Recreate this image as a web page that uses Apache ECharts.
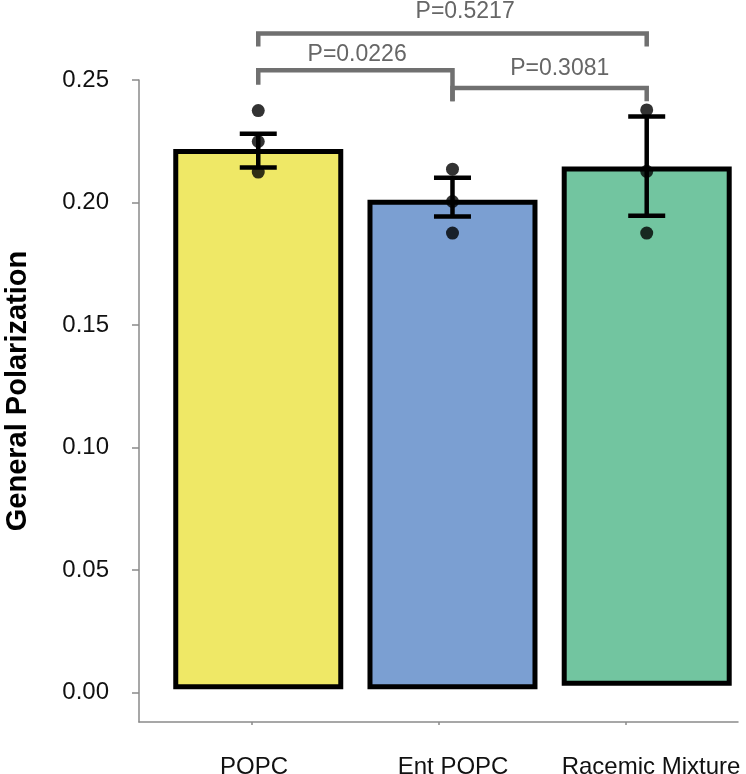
<!DOCTYPE html>
<html>
<head>
<meta charset="utf-8">
<script src="https://cdn.jsdelivr.net/npm/echarts@6/dist/echarts.min.js"></script>
<style>html,body{margin:0;padding:0;background:#fff}#c{width:746px;height:774px}</style>
</head>
<body>
<div id="c"></div>
<script>
// ---- data ----
const categories = ['POPC', 'Ent POPC', 'Racemic Mixture'];
const meanValues = [0.2208, 0.2001, 0.2137];
const barBase = [0.0023, 0.0023, 0.0037];
const errLow = [0.2143, 0.1943, 0.1946];
const errHigh = [0.2281, 0.2101, 0.2351];
const replicates = [
  [0.2375, 0.2249, 0.2124],
  [0.2136, 0.2004, 0.1875],
  [0.2378, 0.2127, 0.1875]
];
const yTicks = [0, 0.05, 0.10, 0.15, 0.20, 0.25];
const pLabels = ['P=0.5217', 'P=0.0226', 'P=0.3081'];
const bracketFrom = [1, 1, 2];
const bracketTo = [3, 2, 3];
const bracketTop = [0.2690, 0.2540, 0.2467];
const bracketLegLeft = [0.2637, 0.2481, 0.2413];
const bracketLegRight = [0.2637, 0.2413, 0.2413];
const pLabelX = [2.065, 1.509, 2.552];
const pLabelY = [0.2777, 0.2605, 0.2547];

// ---- styling ----
const barColors = ['#EFE866', '#7B9FD2', '#72C5A0'];
const FONT = '"Liberation Sans", Arial, Helvetica, sans-serif';
const axisGray = '#8a8a8a';
const bracketGray = '#707070';

const barData = categories.map((c, i) => [i + 1, barBase[i], meanValues[i]]);
const errData = categories.map((c, i) => [i + 1, errLow[i], errHigh[i]]);
const ptData = [];
replicates.forEach((arr, i) => arr.forEach(v => ptData.push([i + 1, v])));
const brData = pLabels.map((t, i) => [bracketFrom[i], bracketTo[i], bracketTop[i], bracketLegLeft[i], bracketLegRight[i], pLabelX[i], pLabelY[i]]);

const chart = echarts.init(document.getElementById('c'), null, {renderer: 'canvas'});
chart.setOption({
  animation: false,
  backgroundColor: '#fff',
  grid: {left: 139, right: 8, top: 80, bottom: 52, containLabel: false, outerBoundsMode: 'none'},
  xAxis: {
    type: 'value', min: 0.386, max: 3.47,
    splitLine: {show: false},
    axisLine: {show: true, onZero: false, lineStyle: {color: axisGray, width: 1.5}},
    axisTick: {show: true, length: 3, lineStyle: {color: axisGray, width: 1.5}, customValues: [0.968, 1.928, 2.891]},
    axisLabel: {
      customValues: [0.978, 2.003, 3.022],
      formatter: v => categories[Math.round(v) - 1] || '',
      color: '#111', fontFamily: FONT, fontSize: 24, margin: 33
    }
  },
  yAxis: {
    type: 'value', min: -0.0121, max: 0.25,
    splitLine: {show: false},
    axisLine: {show: true, onZero: false, lineStyle: {color: axisGray, width: 1.5}},
    axisTick: {show: true, length: 7, lineStyle: {color: axisGray, width: 1.5}, customValues: yTicks},
    axisLabel: {
      customValues: yTicks,
      formatter: v => v.toFixed(2),
      color: '#111', fontFamily: FONT, fontSize: 24, margin: 30,
      padding: [6, 0, 0, 0]
    }
  },
  graphic: [{
    type: 'text', x: 18, y: 391, rotation: Math.PI / 2,
    style: {text: 'General Polarization', font: 'bold 29px ' + FONT, fill: '#000', align: 'center', verticalAlign: 'middle'}
  }],
  series: [
    {
      type: 'custom', data: barData, clip: false, z: 2,
      renderItem: (params, api) => {
        const x = api.value(0);
        const p0 = api.coord([x, api.value(1)]);
        const p1 = api.coord([x, api.value(2)]);
        const w = 165;
        return {type: 'rect', shape: {x: p0[0] - w / 2, y: p1[1], width: w, height: p0[1] - p1[1]},
          style: {fill: barColors[params.dataIndex], stroke: '#000', lineWidth: 5}};
      }
    },
    {
      type: 'custom', data: errData, clip: false, z: 3,
      renderItem: (params, api) => {
        const x = api.value(0);
        const lo = api.coord([x, api.value(1)]);
        const hi = api.coord([x, api.value(2)]);
        const cw = 37;
        const st = {stroke: '#000', lineWidth: 4.5};
        return {type: 'group', children: [
          {type: 'line', shape: {x1: lo[0], y1: lo[1], x2: hi[0], y2: hi[1]}, style: st},
          {type: 'line', shape: {x1: lo[0] - cw / 2, y1: lo[1], x2: lo[0] + cw / 2, y2: lo[1]}, style: st},
          {type: 'line', shape: {x1: hi[0] - cw / 2, y1: hi[1], x2: hi[0] + cw / 2, y2: hi[1]}, style: st}
        ]};
      }
    },
    {
      type: 'scatter', data: ptData, symbol: 'circle', symbolSize: 13, z: 4,
      itemStyle: {color: '#000'}
    },
    {
      type: 'custom', data: brData, clip: false, z: 5,
      renderItem: (params, api) => {
        const a = api.value(0), b = api.value(1);
        const tl = api.coord([a, api.value(2)]);
        const tr = api.coord([b, api.value(2)]);
        const bl = api.coord([a, api.value(3)]);
        const brr = api.coord([b, api.value(4)]);
        const tp = api.coord([api.value(5), api.value(6)]);
        const st = {stroke: bracketGray, lineWidth: 4.5, fill: null};
        return {type: 'group', children: [
          {type: 'polyline', shape: {points: [[bl[0], bl[1]], [tl[0], tl[1]], [tr[0], tr[1]], [brr[0], brr[1]]]}, style: st},
          {type: 'text', x: tp[0], y: tp[1], style: {text: pLabels[params.dataIndex], font: '23px ' + FONT, fill: '#666666', align: 'center', verticalAlign: 'middle'}}
        ]};
      }
    }
  ]
});
</script>
</body>
</html>
